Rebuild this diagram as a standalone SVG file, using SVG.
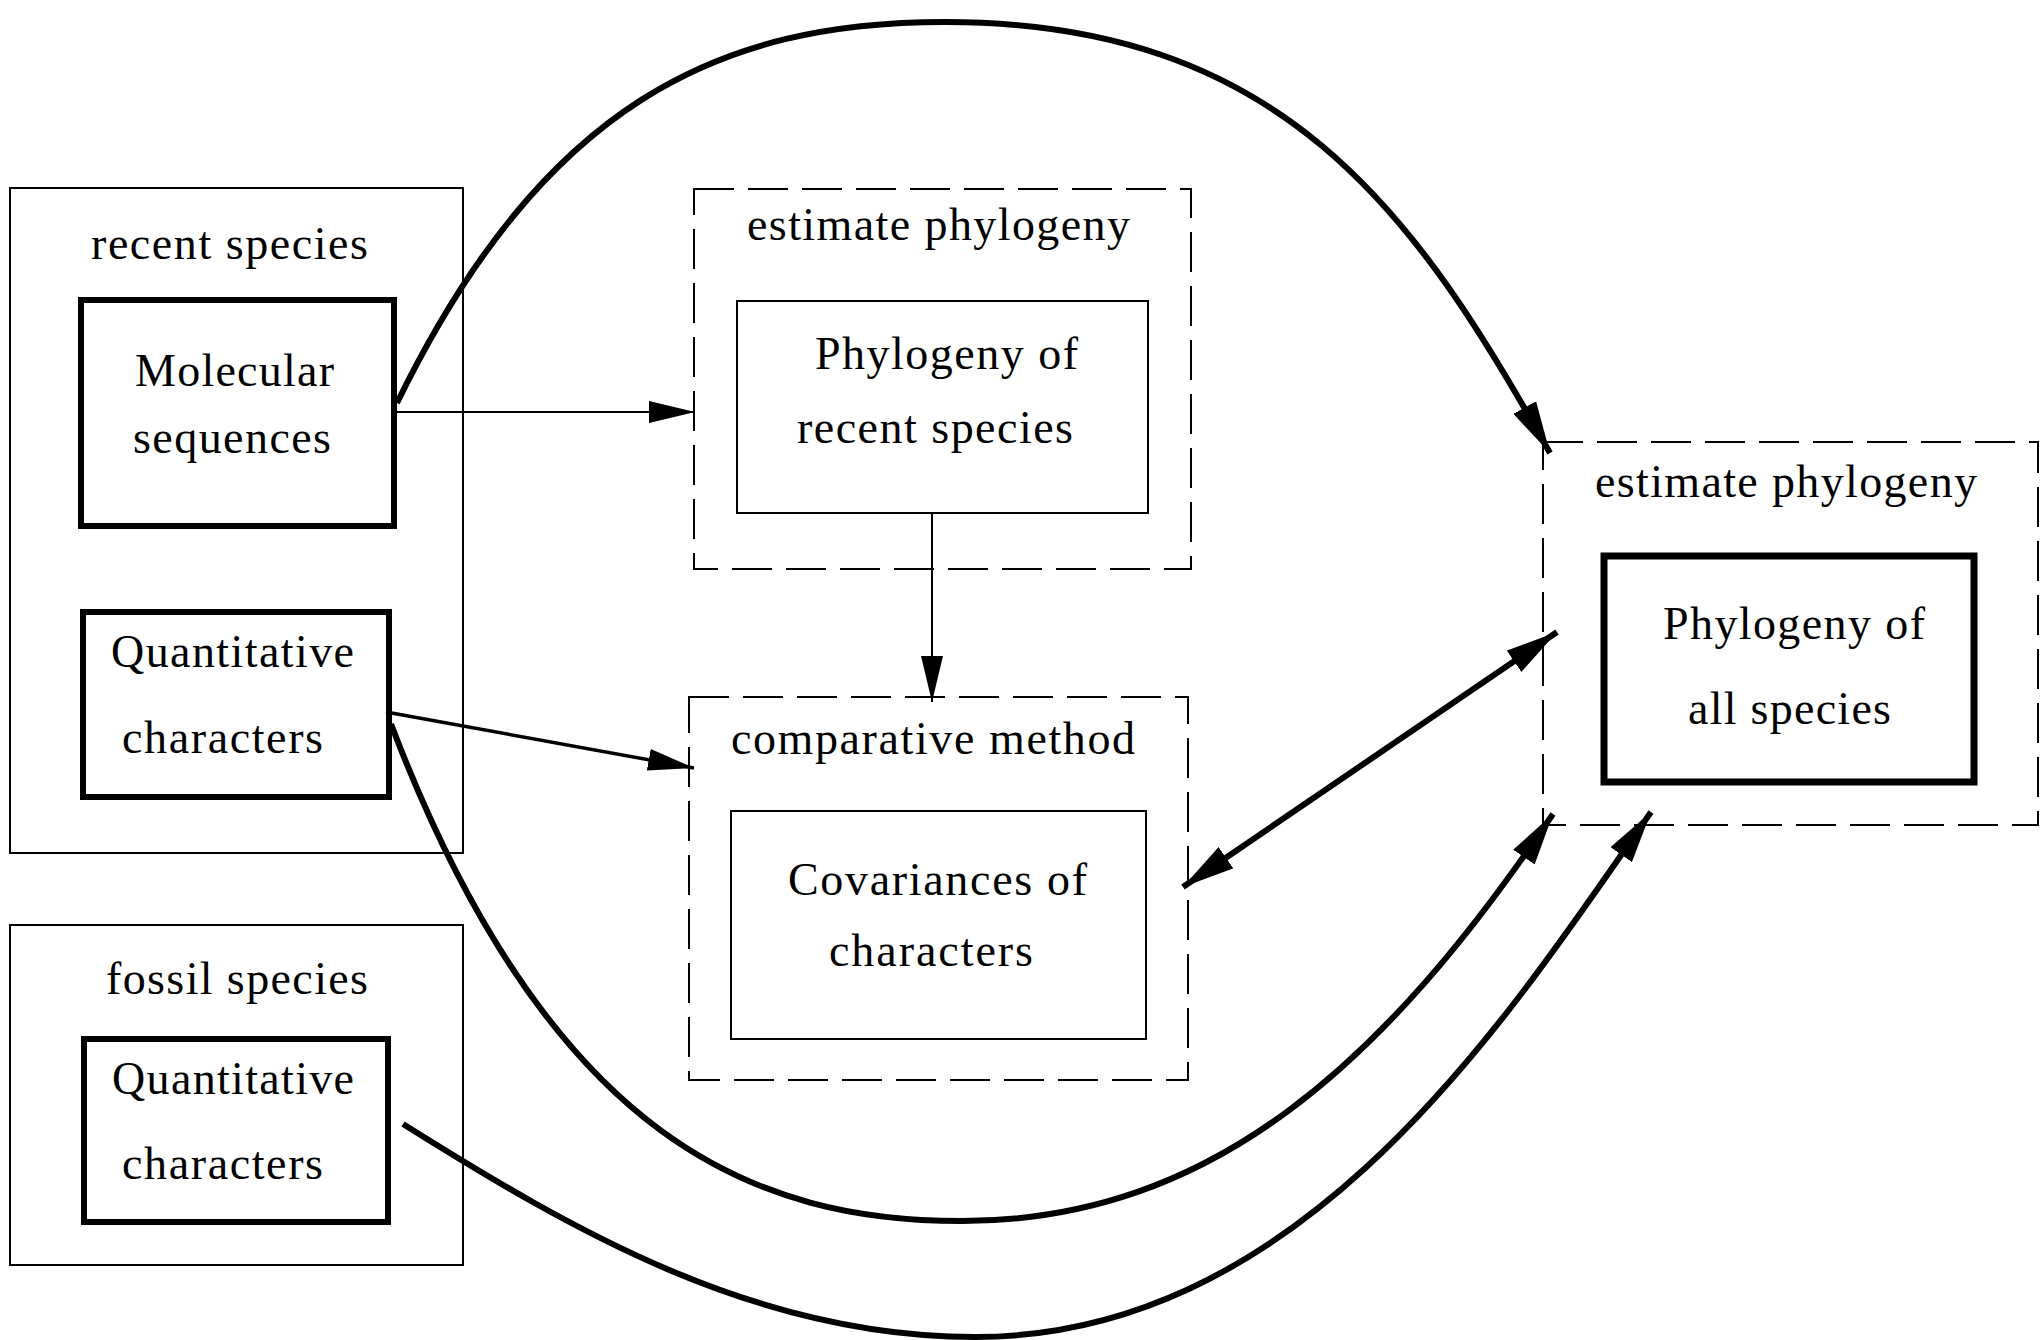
<svg xmlns="http://www.w3.org/2000/svg" width="2043" height="1340" viewBox="0 0 2043 1340">
<style>
text{font-family:"Liberation Serif","Times New Roman",serif;font-size:46px;fill:#000}
.thin{fill:none;stroke:#000;stroke-width:2}
.thick{fill:none;stroke:#000;stroke-width:6}
.dash{fill:none;stroke:#000;stroke-width:2;stroke-dasharray:40 14}
.c1{fill:none;stroke:#000;stroke-width:2}
.c3{fill:none;stroke:#000;stroke-width:3.5}
.c5{fill:none;stroke:#000;stroke-width:6}
</style>
<defs>
<marker id="ah" viewBox="0 0 46 22" refX="46" refY="11" markerWidth="46" markerHeight="22" markerUnits="userSpaceOnUse" orient="auto-start-reverse">
<path d="M0,0 L46,11 L0,22 z" fill="#000"/>
</marker>
<marker id="ahb" viewBox="0 0 52 26" refX="52" refY="13" markerWidth="52" markerHeight="26" markerUnits="userSpaceOnUse" orient="auto-start-reverse">
<path d="M0,0 L52,13 L0,26 z" fill="#000"/>
</marker>
</defs>
<rect width="2043" height="1340" fill="#fff"/>

<g id="recent-species">
<rect class="thin" x="10" y="188" width="453" height="665"/>
<text x="91" y="259" textLength="277" lengthAdjust="spacing">recent species</text>
</g>
<g id="molecular-sequences">
<rect class="thick" x="81" y="300" width="313" height="226"/>
<text x="135" y="386" textLength="199" lengthAdjust="spacing">Molecular</text>
<text x="133" y="453" textLength="198" lengthAdjust="spacing">sequences</text>
</g>
<g id="recent-quantitative">
<rect class="thick" x="83" y="612" width="306" height="185"/>
<text x="111" y="667" textLength="243" lengthAdjust="spacing">Quantitative</text>
<text x="122" y="753" textLength="201" lengthAdjust="spacing">characters</text>
</g>
<g id="fossil-species">
<rect class="thin" x="10" y="925" width="453" height="340"/>
<text x="106" y="994" textLength="262" lengthAdjust="spacing">fossil species</text>
</g>
<g id="fossil-quantitative">
<rect class="thick" x="84" y="1039" width="304" height="183"/>
<text x="112" y="1094" textLength="242" lengthAdjust="spacing">Quantitative</text>
<text x="122" y="1179" textLength="201" lengthAdjust="spacing">characters</text>
</g>
<g id="estimate-phylogeny-recent">
<rect class="dash" x="694" y="189" width="497" height="380"/>
<text x="747" y="240" textLength="383" lengthAdjust="spacing">estimate phylogeny</text>
</g>
<g id="phylogeny-recent">
<rect class="thin" x="737" y="301" width="411" height="212"/>
<text x="815" y="369" textLength="263" lengthAdjust="spacing">Phylogeny of</text>
<text x="797" y="443" textLength="276" lengthAdjust="spacing">recent species</text>
</g>
<g id="comparative-method">
<rect class="dash" x="689" y="697" width="499" height="383"/>
<text x="731" y="754" textLength="404" lengthAdjust="spacing">comparative method</text>
</g>
<g id="covariances">
<rect class="thin" x="731" y="811" width="415" height="228"/>
<text x="788" y="895" textLength="299" lengthAdjust="spacing">Covariances of</text>
<text x="829" y="966" textLength="204" lengthAdjust="spacing">characters</text>
</g>
<g id="estimate-phylogeny-all">
<rect class="dash" x="1543" y="442" width="495" height="383"/>
<text x="1595" y="497" textLength="382" lengthAdjust="spacing">estimate phylogeny</text>
</g>
<g id="phylogeny-all">
<rect class="thin" style="stroke-width:7" x="1604" y="556" width="370" height="226"/>
<text x="1663" y="639" textLength="262" lengthAdjust="spacing">Phylogeny of</text>
<text x="1688" y="724" textLength="203" lengthAdjust="spacing">all species</text>
</g>

<g id="connectors">
<path class="c1" d="M397,412 L695,412" marker-end="url(#ah)"/>
<path class="c1" d="M932,513 L932,702" marker-end="url(#ah)"/>
<path class="c3" d="M386,712 L694,768" marker-end="url(#ah)"/>
<path class="c5" d="M1183,887 L1557,632" marker-start="url(#ahb)" marker-end="url(#ahb)"/>
<path class="c5" d="M397,403 C544,102 720,22 945,22 C1280,22 1414,209 1550,453" marker-end="url(#ahb)"/>
<path class="c5" d="M391,724 C551,1145 760,1221 962,1221 C1212,1221 1385,1063 1553,814" marker-end="url(#ahb)"/>
<path class="c5" d="M403,1124 C572,1230 755,1337 975,1337 C1305,1337 1508,1017 1651,812" marker-end="url(#ahb)"/>
</g>
</svg>
